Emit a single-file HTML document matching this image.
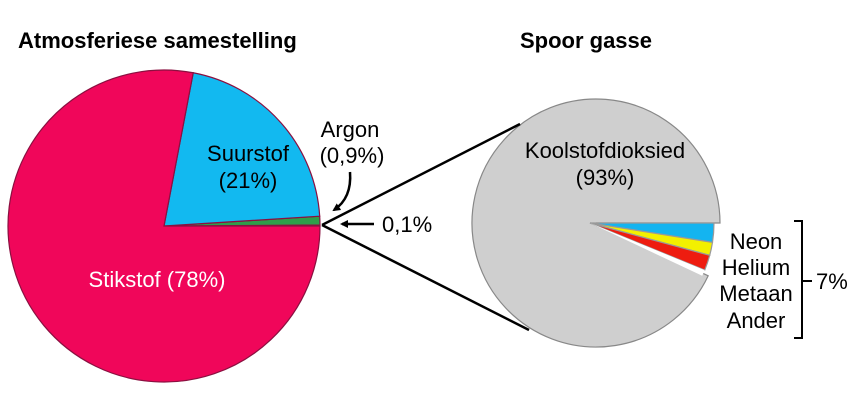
<!DOCTYPE html>
<html><head><meta charset="utf-8"><style>
body{margin:0;background:#fff}
svg{display:block;font-family:"Liberation Sans",Arial,sans-serif}
</style></head><body>
<svg id="c" width="868" height="401" viewBox="0 0 868 401">
<defs>
<marker id="ah" markerWidth="8" markerHeight="8" refX="6" refY="4" orient="auto" markerUnits="userSpaceOnUse"><path d="M0,0 L8,4 L0,8 z" fill="#000"/></marker>
</defs>
<text x="18" y="48" font-size="22" font-weight="bold">Atmosferiese samestelling</text>
<text x="586" y="48" font-size="22" font-weight="bold" text-anchor="middle">Spoor gasse</text>
<g id="left"></g>
<g id="right"></g>
<line x1="322" y1="225" x2="520" y2="124" stroke="#000" stroke-width="2.5"/>
<line x1="322" y1="225" x2="529" y2="330" stroke="#000" stroke-width="2.5"/>
<text x="248" y="161" font-size="22" text-anchor="middle">Suurstof</text>
<text x="248" y="188" font-size="22" text-anchor="middle">(21%)</text>
<text x="157" y="287" font-size="22" fill="#fff" text-anchor="middle">Stikstof (78%)</text>
<text x="350" y="137" font-size="22" text-anchor="middle">Argon</text>
<text x="352" y="163" font-size="22" text-anchor="middle">(0,9%)</text>
<path d="M350,172 Q352,198 334,210" fill="none" stroke="#000" stroke-width="2.5" marker-end="url(#ah)"/>
<line x1="374" y1="224" x2="342" y2="224" stroke="#000" stroke-width="2.5" marker-end="url(#ah)"/>
<text x="382" y="232" font-size="22">0,1%</text>
<text x="605" y="158" font-size="22" text-anchor="middle">Koolstofdioksied</text>
<text x="605" y="185" font-size="22" text-anchor="middle">(93%)</text>
<text x="756" y="249" font-size="22" text-anchor="middle">Neon</text>
<text x="756" y="275" font-size="22" text-anchor="middle">Helium</text>
<text x="756" y="301" font-size="22" text-anchor="middle">Metaan</text>
<text x="756" y="328" font-size="22" text-anchor="middle">Ander</text>
<path d="M794,221 H802 V338 H794 M802,281 H812" fill="none" stroke="#000" stroke-width="2"/>
<text x="816" y="289" font-size="22">7%</text>
</svg>
<script>
const leftLabels=["Ander","Argon","Suurstof","Stikstof"];
const leftValues=[0.1,0.9,21,78];
const leftColors=["#ffffff","#2e9e4a","#12b9f0","#f0065a"];
const rightLabels=["Neon","Helium","Metaan","Ander"];
const rightValues=[2.5,1.7,2.0,0.8];
const rightColors=["#14b4f0","#f3f000","#ee1c10","#ffffff"];
const NS="http://www.w3.org/2000/svg";
function arc(cx,cy,r,a0,a1,fill,stroke){
  const p=document.createElementNS(NS,"path");
  const x0=cx+r*Math.cos(a0),y0=cy+r*Math.sin(a0),x1=cx+r*Math.cos(a1),y1=cy+r*Math.sin(a1);
  const large=Math.abs(a1-a0)>Math.PI?1:0, sweep=a1>a0?1:0;
  p.setAttribute("d",`M${cx},${cy} L${x0},${y0} A${r},${r} 0 ${large} ${sweep} ${x1},${y1} Z`);
  p.setAttribute("fill",fill);p.setAttribute("stroke",stroke);p.setAttribute("stroke-width","1.2");
  return p;
}
(function(){
  const g=document.getElementById("left");const cx=164,cy=226,r=156;
  const tot=leftValues.reduce((a,b)=>a+b,0);let a=0;
  leftValues.forEach((v,i)=>{
    const a1=a-v/tot*2*Math.PI;
    const p=arc(cx,cy,r,a,a1,leftColors[i],i==0?"none":"#8a1040");
    
    
    g.appendChild(p);a=a1;
  });
})();
(function(){
  const g=document.getElementById("right");const cx=596,cy=223,r=124;
  const co2=93;
  const tot=co2+rightValues.reduce((a,b)=>a+b,0);
  const small=rightValues.reduce((a,b)=>a+b,0)/tot*2*Math.PI;
  const p0=arc(cx,cy,r,small,2*Math.PI,"#cfcfcf","#888");
  
  
  g.appendChild(p0);
  let a=0;
  rightValues.forEach((v,i)=>{
    const a1=a+v/tot*2*Math.PI;
    const p=arc(cx-6,cy,r,a,a1,rightColors[i],i==3?"none":"#999");
    
    
    g.appendChild(p);a=a1;
  });
})();
</script>
</body></html>
